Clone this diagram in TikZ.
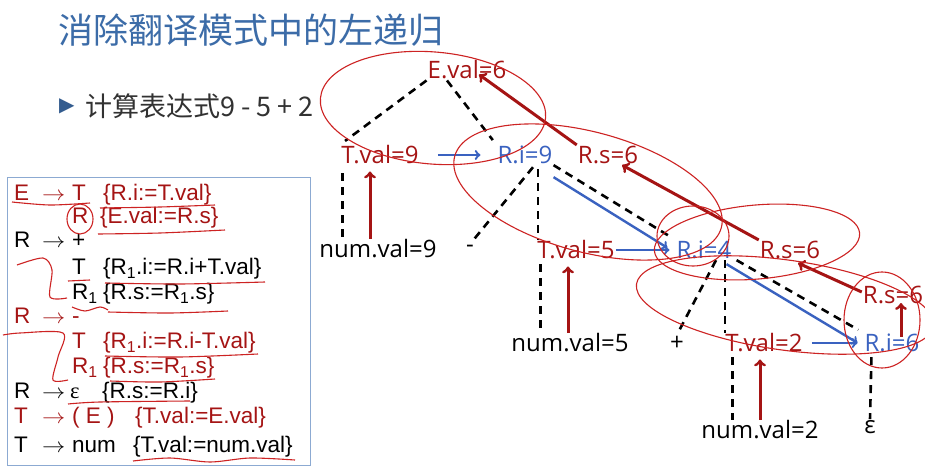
\documentclass[tikz,border=0pt]{standalone}
\usepackage{fontspec}
\usepackage{xcolor}
\usetikzlibrary{positioning}
\setmainfont{Liberation Sans}
\newfontfamily\cjkfont{Noto Sans CJK SC}
\newfontfamily\treefont{Open Sans}
\newfontfamily\symfont{DejaVu Sans}
\newfontfamily\grkfont{Liberation Serif}
\definecolor{titleblue}{RGB}{60,108,168}
\definecolor{valred}{RGB}{165,20,20}
\definecolor{valblue}{RGB}{58,98,192}
\definecolor{inkred}{RGB}{205,35,35}
\definecolor{boxblue}{RGB}{140,170,210}
\definecolor{textgray}{RGB}{50,50,50}
\tikzset{
    treelbl/.style={font=\treefont\fontsize{24}{28}\selectfont, inner sep=1pt},
    synval/.style={treelbl, text=valred},
    inhval/.style={treelbl, text=valblue},
    leafval/.style={treelbl, text=black},
    gram/.style={font=\fontsize{22.5}{27}\selectfont, anchor=west, inner sep=0pt, text height=15pt, text depth=4pt},
    gred/.style={gram, text=valred},
    treeedge/.style={dashed, line width=2.6pt, dash pattern=on 8pt off 6pt},
    synarrow/.style={->, line width=3pt, valred},
    inharrow/.style={->, line width=2.4pt, valblue},
    ink/.style={inkred, line width=1.1pt}
}
\newcommand{\ga}{\scalebox{1.12}[1]{$\rightarrow$}}
\begin{document}
\begin{tikzpicture}[x=1pt,y=-1pt]
        \useasboundingbox[fill=white] (0,0) rectangle (925,473);
        %Title
            \node[anchor=west, inner sep=0pt, text=titleblue, font=\cjkfont\fontsize{35}{40}\selectfont] (title) at (58,30) {消除翻译模式中的左递归};
            \node[anchor=west, inner sep=0pt, text=titleblue!85!black, font=\symfont\fontsize{20}{24}\selectfont] (bullet) at (59,106) {▶};
            \node[anchor=west, inner sep=0pt, text=textgray, font=\cjkfont\fontsize{27}{30}\selectfont] (task) at (85,106) {计算表达式9 - 5 + 2};
        %Grammar box
            \draw[boxblue, line width=1pt] (7,177) rectangle (310,465);
            \node[gred] (g1l) at (14,195) {E};
            \node[gred] (g1a) at (42,195) {\ga};
            \node[gred] (g1s) at (72,195) {T};
            \node[gred] (g1c) at (103,195) {\{R.i:=T.val\}};
            \node[gred] (g2s) at (72,218) {R};
            \node[gred] (g2c) at (100,218) {\{E.val:=R.s\}};
            \node[gram] (g3l) at (14,242) {R};
            \node[gram] (g3a) at (42,242) {\ga};
            \node[gram] (g3s) at (72,242) {+};
            \node[gram] (g4s) at (72,269) {T};
            \node[gram] (g4c) at (103,269) {\{R\textsubscript{1}.i:=R.i+T.val\}};
            \node[gram] (g5s) at (72,294) {R\textsubscript{1}};
            \node[gram] (g5c) at (103,294) {\{R.s:=R\textsubscript{1}.s\}};
            \node[gred] (g6l) at (14,318) {R};
            \node[gred] (g6a) at (42,318) {\ga};
            \node[gred] (g6s) at (72,318) {-};
            \node[gred] (g7s) at (72,343) {T};
            \node[gred] (g7c) at (103,343) {\{R\textsubscript{1}.i:=R.i-T.val\}};
            \node[gred] (g8s) at (72,368) {R\textsubscript{1}};
            \node[gred] (g8c) at (103,368) {\{R.s:=R\textsubscript{1}.s\}};
            \node[gram] (g9l) at (14,393) {R};
            \node[gram] (g9a) at (42,393) {\ga};
            \node[gram] (g9s) at (70,393) {\grkfont ε};
            \node[gram] (g9c) at (102,393) {\{R.s:=R.i\}};
            \node[gred] (g10l) at (14,418) {T};
            \node[gred] (g10a) at (42,418) {\ga};
            \node[gred] (g10s) at (72,418) {( E )};
            \node[gred] (g10c) at (135,418) {\{T.val:=E.val\}};
            \node[gram] (g11l) at (14,447) {T};
            \node[gram] (g11a) at (42,447) {\ga};
            \node[gram] (g11s) at (72,447) {num};
            \node[gram] (g11c) at (133,447) {\{T.val:=num.val\}};
        %Ink marks on the grammar
            \draw[ink] plot[smooth] coordinates {(12,202) (50,205) (90,203)};
            \draw[ink] plot[smooth] coordinates {(100,208) (160,207) (215,205)};
            \draw[ink] (80,219) ellipse (13 and 15);
            \draw[ink] plot[smooth] coordinates {(98,234) (160,233) (225,230)};
            \draw[ink] plot[smooth] coordinates {(17,265) (43,258) (52,270) (50,297) (67,298)};
            \draw[ink] plot[smooth] coordinates {(68,281) (90,280)};
            \draw[ink] plot[smooth] coordinates {(105,283) (180,284) (265,282)};
            \draw[ink] plot[smooth] coordinates {(72,307) (85,311) (100,307) (108,310)};
            \draw[ink] plot[smooth] coordinates {(108,312) (170,313) (228,311)};
            \draw[ink] plot[smooth] coordinates {(3,335) (20,333) (63,333) (58,357) (53,380) (68,380)};
            \draw[ink] plot[smooth] coordinates {(105,356) (180,357) (258,354)};
            \draw[ink] plot[smooth] coordinates {(110,381) (160,382) (215,379)};
            \draw[ink] plot[smooth] coordinates {(68,404) (100,402) (190,401)};
            \draw[ink] plot[smooth] coordinates {(133,461) (170,458) (210,462) (250,458) (295,460)};
        %Tree values
            \node[synval] (Eval) at (467,70) {E.val=6};
            \node[synval] (Tval1) at (380,155) {T.val=9};
            \node[inhval] (Ri1) at (525,155) {R.i=9};
            \node[synval] (Rs1) at (608,155) {R.s=6};
            \node[leafval] (num1) at (378,249) {num.val=9};
            \node[leafval] (minus) at (470,249) {-};
            \node[synval] (Tval2) at (576,250) {T.val=5};
            \node[inhval] (Ri2) at (704,250) {R.i=4};
            \node[synval] (Rs2) at (790,250) {R.s=6};
            \node[leafval] (num2) at (570,343) {num.val=5};
            \node[leafval] (plus) at (677,343) {+};
            \node[synval] (Tval3) at (764,343) {T.val=2};
            \node[inhval] (Ri3) at (892,343) {R.i=6};
            \node[synval] (Rs3) at (893,295) {R.s=6};
            \node[leafval] (num3) at (760,430) {num.val=2};
            \node[leafval] (eps) at (870,427) {ε};
        %Parse tree edges
            \draw[treeedge, shorten >=6pt] (Eval.south west) -- (Tval1.north west);
            \draw[treeedge, shorten >=6pt] ([xshift=-20pt]Eval.south) -- (Ri1.north west);
            \draw[treeedge] ([xshift=2pt,yshift=-8pt]Tval1.south west) -- ([xshift=2pt]Tval1.south west |- num1.north);
            \draw[treeedge, shorten >=4pt] ([xshift=8pt,yshift=-2pt]Ri1.south) -- (minus.north);
            \draw[treeedge] ([xshift=13pt,yshift=-4pt]Ri1.south) -- ([xshift=13pt]Ri1.south |- Tval2.north);
            \draw[treeedge, shorten >=6pt] (Ri1.south east) -- (Ri2.north west);
            \draw[treeedge] ([xshift=4pt,yshift=-4pt]Tval2.south west) -- ([xshift=4pt]Tval2.south west |- num2.north);
            \draw[treeedge, shorten >=4pt] ([xshift=12pt]Ri2.south) -- (plus.north);
            \draw[treeedge] ([xshift=21pt]Ri2.south) -- ([xshift=21pt]Ri2.south |- Tval3.north);
            \draw[treeedge, shorten >=6pt] ([xshift=4pt]Ri2.south east) -- (Ri3.north west);
            \draw[treeedge] ([xshift=8pt,yshift=-4pt]Tval3.south west) -- ([xshift=8pt]Tval3.south west |- num3.north);
            \draw[treeedge] ([xshift=8pt,yshift=-4pt]Ri3.south west) -- (eps.north);
        %Synthesized values
            \draw[synarrow] ([xshift=-10pt]Tval1.south |- num1.north) -- ([xshift=-10pt,yshift=-6pt]Tval1.south);
            \draw[synarrow] ([xshift=-8pt]Tval2.south |- num2.north) -- ([xshift=-8pt,yshift=-6pt]Tval2.south);
            \draw[synarrow] ([xshift=-4pt]Tval3.south |- num3.north) -- ([xshift=-4pt,yshift=-6pt]Tval3.south);
            \draw[synarrow] (Rs1.north west) -- ([xshift=12pt,yshift=6pt]Eval.south);
            \draw[synarrow] (Rs2.north west) -- ([xshift=14pt]Rs1.south);
            \draw[synarrow] ([yshift=3pt]Rs3.west) -- ([xshift=8pt,yshift=-3pt]Rs2.south);
            \draw[synarrow] ([xshift=9pt,yshift=-4pt]Ri3.north) -- ([xshift=8pt,yshift=2pt]Rs3.south);
        %Inherited values
            \draw[inharrow, shorten <=18pt, shorten >=16pt] (Tval1.east) -- (Ri1.west);
            \draw[inharrow] ([yshift=-12pt]Ri1.south east) -- ([xshift=-8pt,yshift=-8pt]Ri2.north west);
            \draw[inharrow, shorten >=6pt] (Tval2.east) -- (Ri2.west);
            \draw[inharrow] ([xshift=-6pt,yshift=-4pt]Ri2.south east) -- ([xshift=-6pt,yshift=-10pt]Ri3.north west);
            \draw[inharrow, shorten <=8pt, shorten >=6pt] (Tval3.east) -- (Ri3.west);
        %Ink loops round the tree
            \draw[ink, rotate around={-5:(433,108)}] (433,108) ellipse (113 and 56);
            \draw[ink, rotate around={-15:(588,192)}] (588,192) ellipse (138 and 60);
            \draw[ink] (693,236) ellipse (36 and 30);
            \draw[ink, rotate around={5:(757,242)}] (757,242) ellipse (103 and 37);
            \draw[ink, rotate around={-8:(785,305)}] (785,305) ellipse (150 and 45);
            \draw[ink] (882,320) ellipse (38 and 48);
    \end{tikzpicture}
\end{document}
